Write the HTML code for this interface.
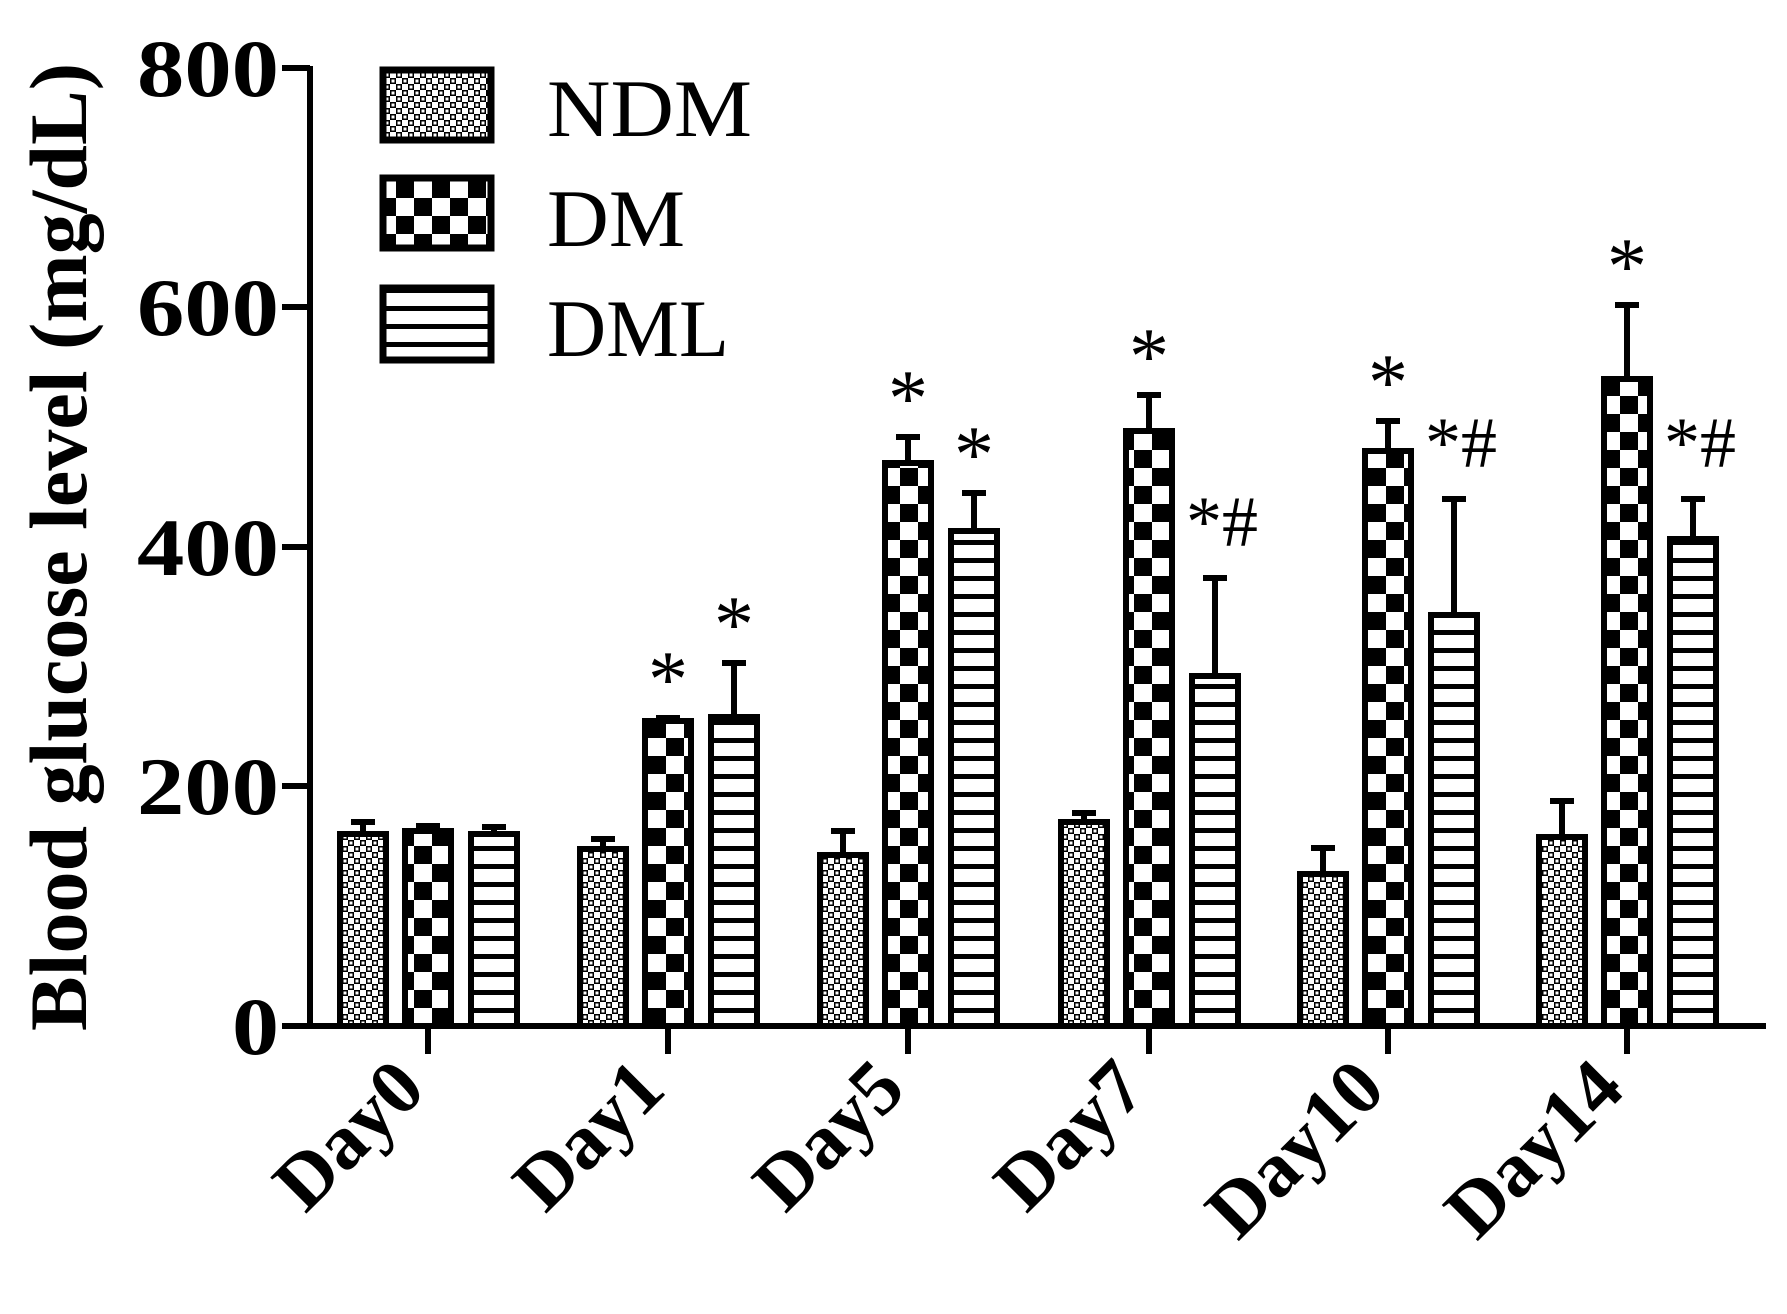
<!DOCTYPE html>
<html><head><meta charset="utf-8"><style>
html,body{margin:0;padding:0;background:#fff;}
svg{display:block;}
text{font-family:"Liberation Serif",serif;fill:#000;}
</style></head><body>
<svg width="1787" height="1314" viewBox="0 0 1787 1314" xmlns="http://www.w3.org/2000/svg">
<defs>
<pattern id="pN" width="12" height="12" patternUnits="userSpaceOnUse">
<rect width="12" height="12" fill="#fff"/>
<rect x="0" y="0" width="6" height="6" fill="#000"/>
<rect x="6" y="6" width="6" height="6" fill="#000"/>
<rect x="1.5" y="1.5" width="3" height="3" fill="#fff"/>
<rect x="7.5" y="7.5" width="3" height="3" fill="#fff"/>
</pattern>
<pattern id="pD" width="36" height="36" patternUnits="userSpaceOnUse">
<rect width="36" height="36" fill="#fff"/>
<rect x="0" y="0" width="18" height="18" fill="#000"/>
<rect x="18" y="18" width="18" height="18" fill="#000"/>
</pattern>
<pattern id="pL" width="20" height="18" patternUnits="userSpaceOnUse">
<rect width="20" height="18" fill="#fff"/>
<rect x="0" y="0" width="20" height="5" fill="#000"/>
</pattern>
</defs>
<g stroke="#000" stroke-width="6">
<path d="M363 834V822M351 822H375 M428 831V826M416 826H440 M494 834V827M482 827H506"/>
<path d="M603 849V839M591 839H615 M668 721V718M656 718H680 M734 717V663M722 663H746"/>
<path d="M843 855V831M831 831H855 M908 463V437M896 437H920 M974 531V493M962 493H986"/>
<path d="M1084 822V813M1072 813H1096 M1149 431V395M1137 395H1161 M1215 676V578M1203 578H1227"/>
<path d="M1323 874V848M1311 848H1335 M1388 451V421M1376 421H1400 M1454 615V499M1442 499H1466"/>
<path d="M1562 837V801M1550 801H1574 M1627 379V305M1615 305H1639 M1693 539V499M1681 499H1705"/>
</g>
<g stroke="#000" stroke-width="6">
<rect x="340" y="834" width="46" height="192" fill="url(#pN)"/>
<rect x="405" y="831" width="46" height="195" fill="url(#pD)"/>
<rect x="471" y="834" width="46" height="192" fill="url(#pL)"/>
<rect x="580" y="849" width="46" height="177" fill="url(#pN)"/>
<rect x="645" y="721" width="46" height="305" fill="url(#pD)"/>
<rect x="711" y="717" width="46" height="309" fill="url(#pL)"/>
<rect x="820" y="855" width="46" height="171" fill="url(#pN)"/>
<rect x="885" y="463" width="46" height="563" fill="url(#pD)"/>
<rect x="951" y="531" width="46" height="495" fill="url(#pL)"/>
<rect x="1061" y="822" width="46" height="204" fill="url(#pN)"/>
<rect x="1126" y="431" width="46" height="595" fill="url(#pD)"/>
<rect x="1192" y="676" width="46" height="350" fill="url(#pL)"/>
<rect x="1300" y="874" width="46" height="152" fill="url(#pN)"/>
<rect x="1365" y="451" width="46" height="575" fill="url(#pD)"/>
<rect x="1431" y="615" width="46" height="411" fill="url(#pL)"/>
<rect x="1539" y="837" width="46" height="189" fill="url(#pN)"/>
<rect x="1604" y="379" width="46" height="647" fill="url(#pD)"/>
<rect x="1670" y="539" width="46" height="487" fill="url(#pL)"/>
</g>
<g font-size="80" text-anchor="middle">
<text x="668" y="706">*</text>
<text x="734" y="651">*</text>
<text x="908" y="425">*</text>
<text x="974" y="481">*</text>
<text x="1149" y="383">*</text>
<text x="1388" y="409">*</text>
<text x="1627" y="293">*</text>
</g>
<g font-size="72">
<text x="1186" y="546">*#</text>
<text x="1425" y="467">*#</text>
<text x="1664" y="467">*#</text>
</g>
<line x1="310" y1="66" x2="310" y2="1029" stroke="#000" stroke-width="6"/>
<line x1="307" y1="1026" x2="1766" y2="1026" stroke="#000" stroke-width="6"/>
<g stroke="#000" stroke-width="6">
<line x1="282" y1="68" x2="310" y2="68"/>
<line x1="282" y1="307" x2="310" y2="307"/>
<line x1="282" y1="547" x2="310" y2="547"/>
<line x1="282" y1="786" x2="310" y2="786"/>
<line x1="282" y1="1026" x2="310" y2="1026"/>
<line x1="428" y1="1026" x2="428" y2="1054"/>
<line x1="668" y1="1026" x2="668" y2="1054"/>
<line x1="908" y1="1026" x2="908" y2="1054"/>
<line x1="1149" y1="1026" x2="1149" y2="1054"/>
<line x1="1388" y1="1026" x2="1388" y2="1054"/>
<line x1="1627" y1="1026" x2="1627" y2="1054"/>
</g>
<g font-size="82" font-weight="bold">
<text x="137" y="96" textLength="142" lengthAdjust="spacingAndGlyphs">800</text>
<text x="137" y="335" textLength="142" lengthAdjust="spacingAndGlyphs">600</text>
<text x="137" y="575" textLength="142" lengthAdjust="spacingAndGlyphs">400</text>
<text x="137" y="814" textLength="142" lengthAdjust="spacingAndGlyphs">200</text>
<text x="232" y="1054" textLength="47" lengthAdjust="spacingAndGlyphs">0</text>
</g>
<text transform="translate(86,547) rotate(-90)" font-size="82" font-weight="bold" text-anchor="middle">Blood glucose level (mg/dL)</text>
<g font-size="78" font-weight="bold" text-anchor="end">
<text transform="translate(428,1092) rotate(-45)">Day0</text>
<text transform="translate(668,1092) rotate(-45)">Day1</text>
<text transform="translate(908,1092) rotate(-45)">Day5</text>
<text transform="translate(1149,1092) rotate(-45)">Day7</text>
<text transform="translate(1388,1092) rotate(-45)">Day10</text>
<text transform="translate(1627,1092) rotate(-45)">Day14</text>
</g>
<rect x="383" y="70" width="108" height="70" fill="url(#pN)" stroke="#000" stroke-width="7"/>
<rect x="383" y="178" width="108" height="70" fill="url(#pD)" stroke="#000" stroke-width="7"/>
<rect x="383" y="288" width="108" height="72" fill="url(#pL)" stroke="#000" stroke-width="7"/>
<g font-size="82">
<text x="547" y="136" textLength="205" lengthAdjust="spacingAndGlyphs">NDM</text>
<text x="547" y="246" textLength="138" lengthAdjust="spacingAndGlyphs">DM</text>
<text x="547" y="356" textLength="182" lengthAdjust="spacingAndGlyphs">DML</text>
</g>
</svg>
</body></html>
